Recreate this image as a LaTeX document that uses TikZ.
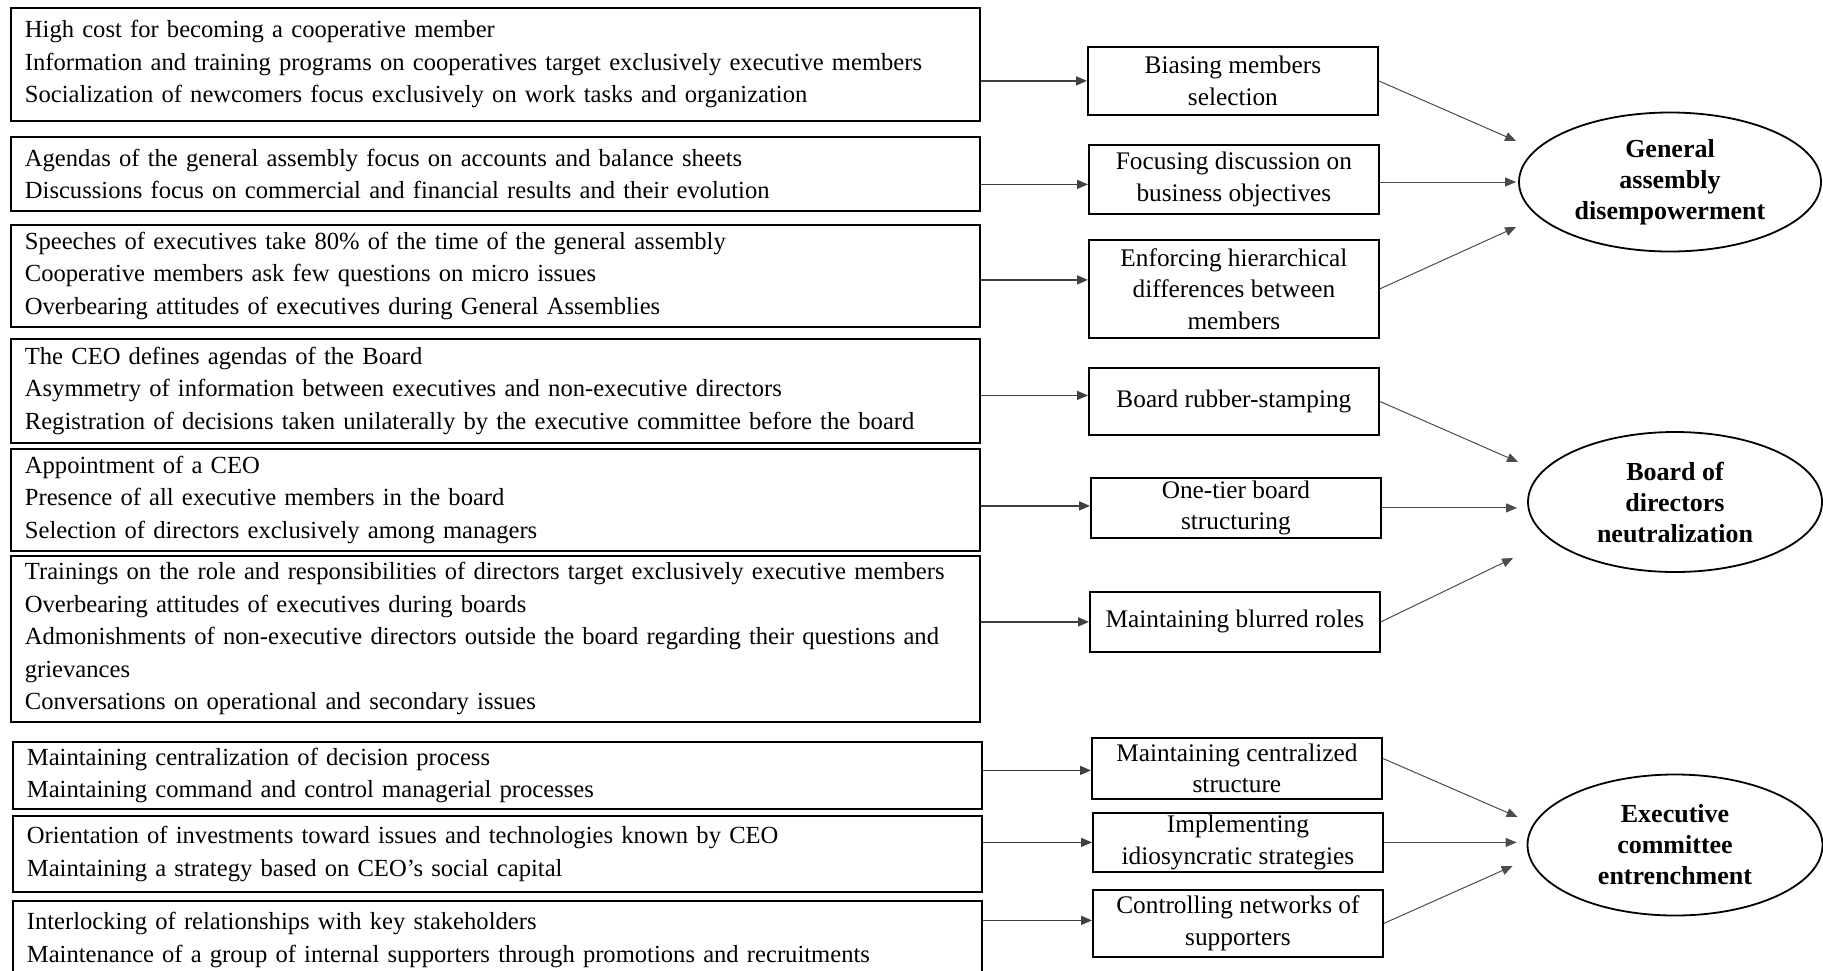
\documentclass[tikz,border=0pt]{standalone}
\usepackage{fontspec}
\setmainfont{Liberation Serif}
\usetikzlibrary{positioning,arrows.meta,calc,shapes.geometric}
\tikzset{
    cause/.style={rectangle, draw, line width=1.8pt, anchor=north west, align=left, text width=941pt, inner xsep=14pt, inner ysep=3pt, font=\fontsize{24.6}{32.5}\selectfont},
    mechanism/.style={rectangle, draw, line width=1.8pt, anchor=north west, align=center, minimum width=290pt, inner sep=2pt, font=\fontsize{25.3}{31.5}\selectfont},
    outcome/.style={ellipse, draw, line width=1.8pt, align=center, inner sep=0pt, font=\fontsize{26}{31}\selectfont\bfseries},
    feed/.style={-{Triangle[length=11pt,width=9pt]}, line width=1.5pt, black!75},
    link/.style={-{Triangle[length=11pt,width=9pt]}, line width=1pt, black!70}
}

\begin{document}
\begin{tikzpicture}[x=1pt, y=-1pt]
    \useasboundingbox (0,0) rectangle (1823,970);

    % Left column - observed practices
    \node[cause, minimum height=113pt] (C1) at (10,7) {High cost for becoming a cooperative member\\Information and training programs on cooperatives target exclusively executive members\\Socialization of newcomers focus exclusively on work tasks and organization};
    \node[cause, minimum height=74pt] (C2) at (10,136) {Agendas of the general assembly focus on accounts and balance sheets\\Discussions focus on commercial and financial results and their evolution};
    \node[cause, minimum height=102pt] (C3) at (10,224) {Speeches of executives take 80\% of the time of the general assembly\\Cooperative members ask few questions on micro issues\\Overbearing attitudes of executives during General Assemblies};
    \node[cause, minimum height=104pt] (C4) at (10,338) {The CEO defines agendas of the Board\\Asymmetry of information between executives and non-executive directors\\Registration of decisions taken unilaterally by the executive committee before the board};
    \node[cause, minimum height=102pt] (C5) at (10,448) {Appointment of a CEO\\Presence of all executive members in the board\\Selection of directors exclusively among managers};
    \node[cause, minimum height=166pt] (C6) at (10,555) {Trainings on the role and responsibilities of directors target exclusively executive members\\Overbearing attitudes of executives during boards\\Admonishments of non-executive directors outside the board regarding their questions and\\grievances\\Conversations on operational and secondary issues};
    \node[cause, minimum height=67pt] (C7) at (12,741) {Maintaining centralization of decision process\\Maintaining command and control managerial processes};
    \node[cause, minimum height=76pt] (C8) at (12,815) {Orientation of investments toward issues and technologies known by CEO\\Maintaining a strategy based on CEO’s social capital};
    \node[cause, minimum height=78pt] (C9) at (12,900) {Interlocking of relationships with key stakeholders\\Maintenance of a group of internal supporters through promotions and recruitments};

    % Middle column - mechanisms
    \node[mechanism, minimum height=68pt] (M1) at (1087,46) {Biasing members\\selection};
    \node[mechanism, minimum height=69pt] (M2) at (1088,144) {Focusing discussion on\\business objectives};
    \node[mechanism, minimum height=98pt] (M3) at (1088,239) {Enforcing hierarchical\\differences between\\members};
    \node[mechanism, minimum height=67pt] (M4) at (1088,367) {Board rubber-stamping};
    \node[mechanism, minimum height=60pt] (M5) at (1090,477) {One-tier board\\structuring};
    \node[mechanism, minimum height=60pt] (M6) at (1089,591) {Maintaining blurred roles};
    \node[mechanism, minimum height=61pt] (M7) at (1091,737) {Maintaining centralized\\structure};
    \node[mechanism, minimum height=59pt] (M8) at (1092,812) {Implementing\\idiosyncratic strategies};
    \node[mechanism, minimum height=67pt] (M9) at (1092,889) {Controlling networks of\\supporters};

    % Right column - outcomes
    \node[outcome, minimum width=302pt, minimum height=139pt] (GA) at (1670,182) {General\\assembly\\disempowerment};
    \node[outcome, minimum width=294pt, minimum height=140pt] (BD) at (1675,502) {Board of\\directors\\neutralization};
    \node[outcome, minimum width=295pt, minimum height=141pt] (EC) at (1675,845) {Executive\\committee\\entrenchment};

    % Practices to mechanisms
    \foreach \i/\dy in {1/0,2/5,3/-9,4/-6,5/-2,6/0,7/2,8/0,9/-3} {
        \coordinate (in-\i) at ($(M\i.west)+(0,\dy)$);
        \draw[feed] (C\i.east |- in-\i) -- (in-\i);
    }

    % Mechanisms to outcomes
    \draw[link] (M1.east) -- ($(GA.west)+(-2,-41)$);
    \draw[link] (M2.east |- GA.west) -- ($(GA.west)+(-2,0)$);
    \draw[link] (M3.east) -- ($(GA.west)+(-2,45)$);

    \draw[link] (M4.east) -- ($(BD.west)+(-9,-40)$);
    \draw[link] (M5.east) -- ($(M5.east -| BD.west)+(-10,0)$);
    \draw[link] (M6.east) -- ($(BD.west)+(-14,56)$);

    \draw[link] ([yshift=10pt]M7.east) -- ($(EC.west)+(-9,-28)$);
    \draw[link] (M8.east) -- ($(M8.east -| EC.west)+(-10,0)$);
    \draw[link] (M9.east) -- ($(EC.west)+(-14,21)$);
\end{tikzpicture}
\end{document}
